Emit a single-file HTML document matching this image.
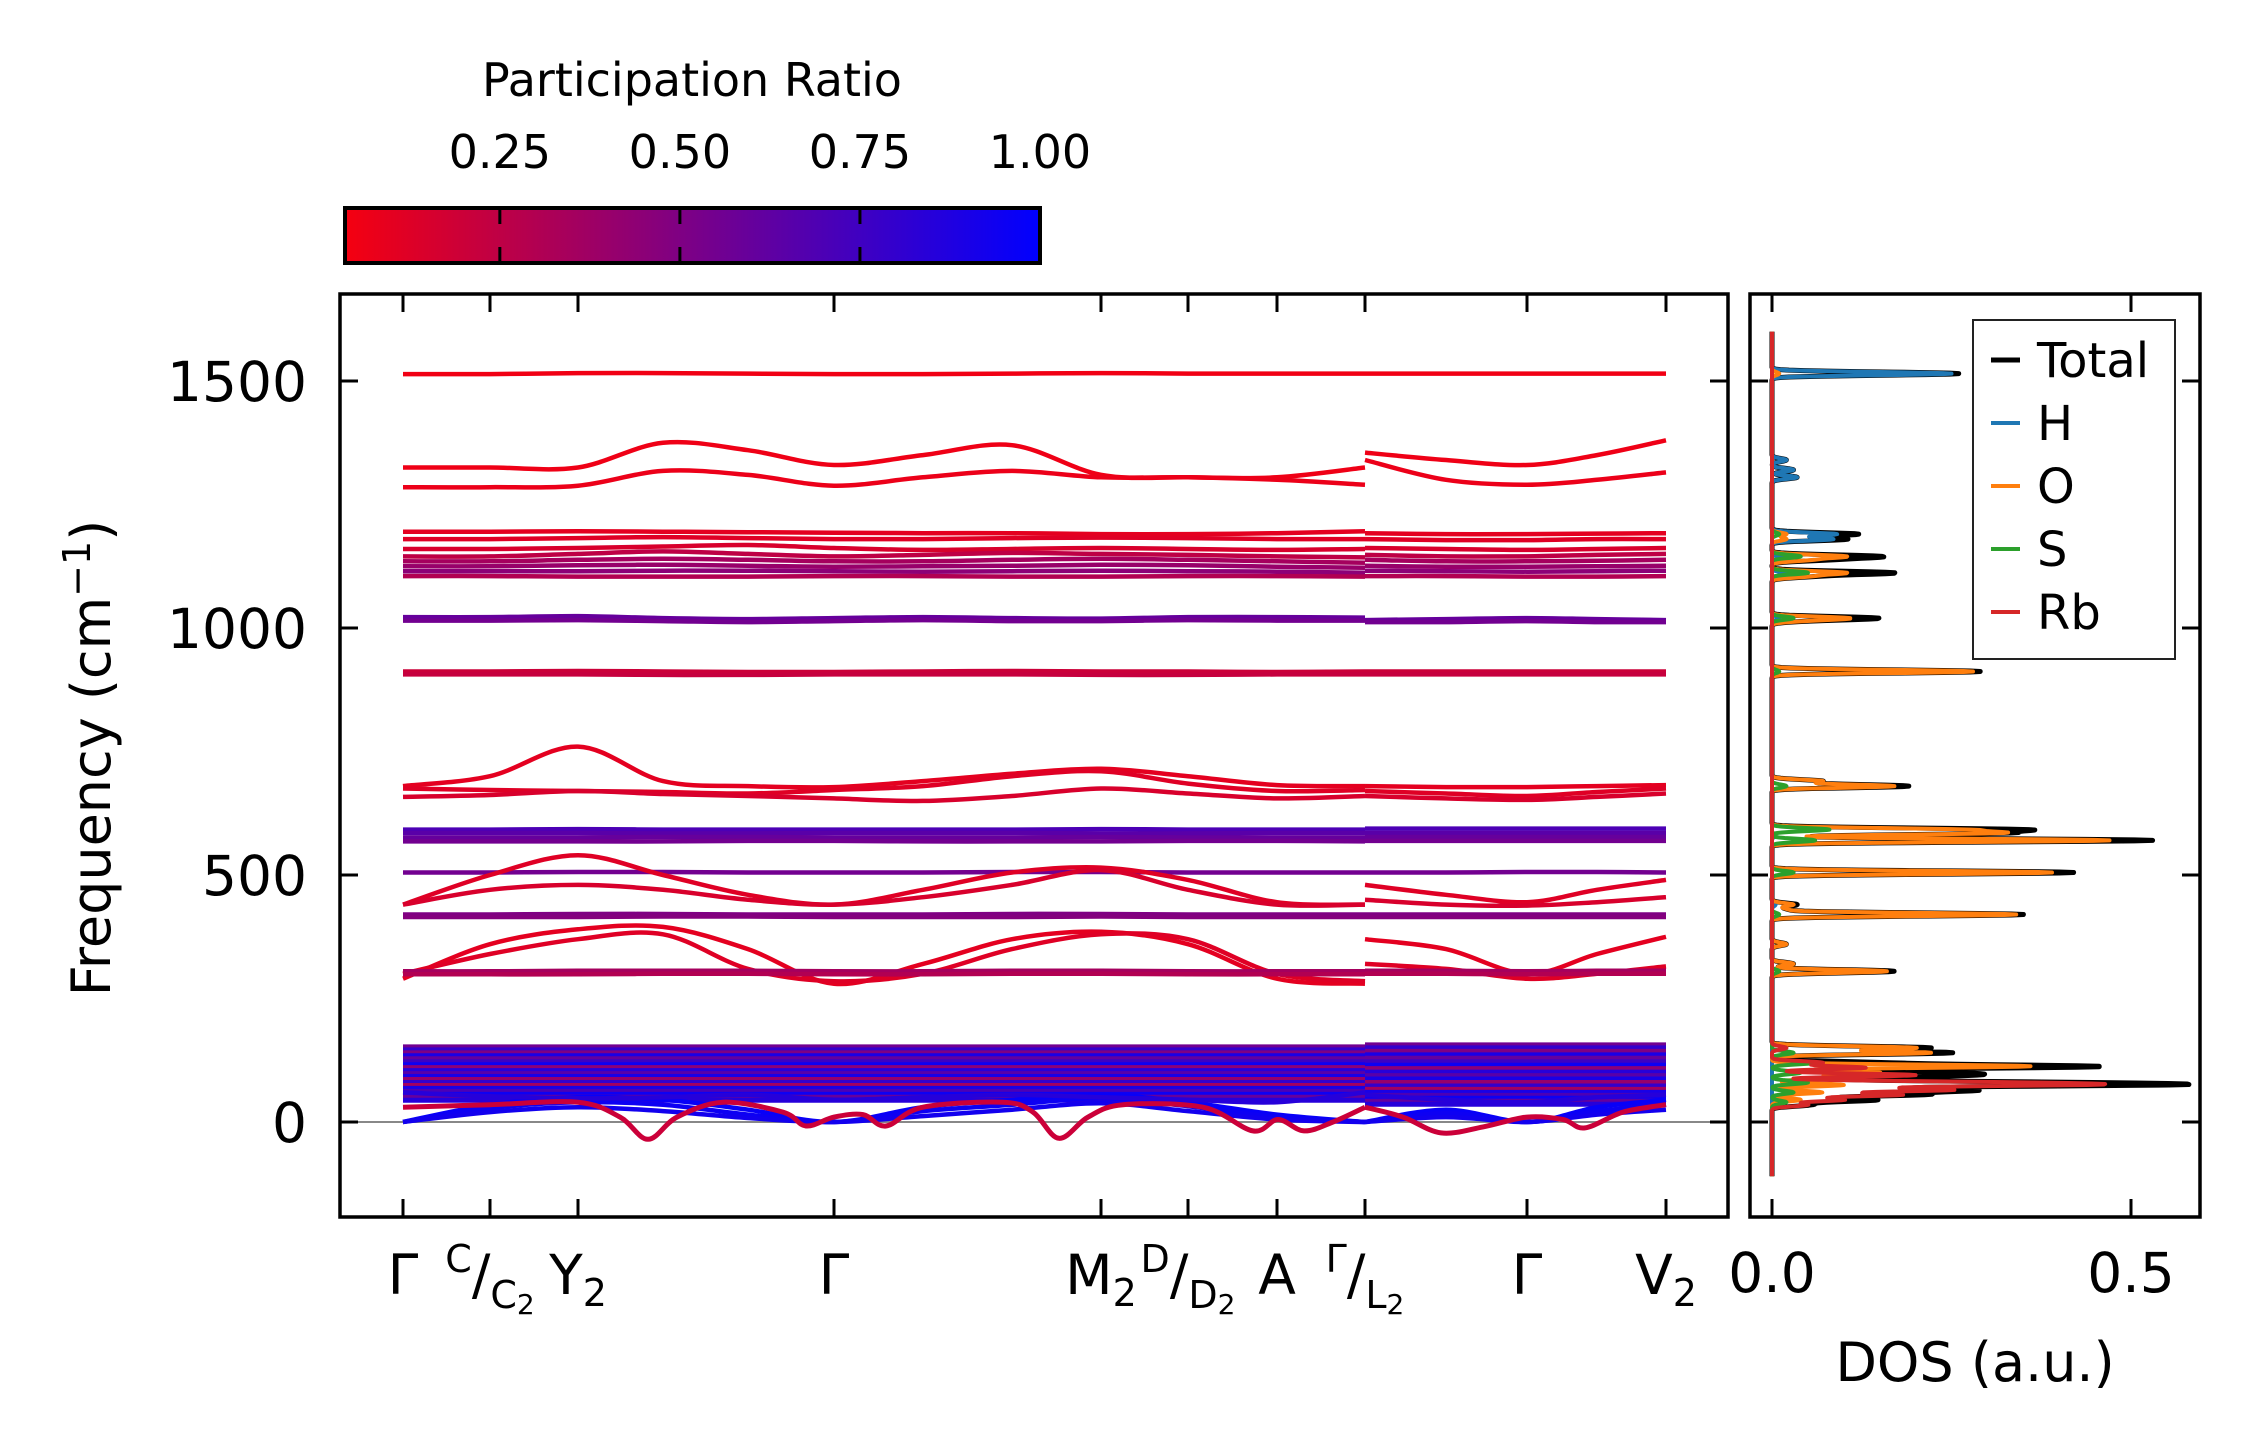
<!DOCTYPE html>
<html><head><meta charset="utf-8"><style>
html,body{margin:0;padding:0;background:#fff}
svg{display:block}
text{font-family:"DejaVu Sans","Liberation Sans",sans-serif;fill:#000}
</style></head><body>
<svg id="fig" xmlns="http://www.w3.org/2000/svg" width="2259" height="1455" viewBox="0 0 2259 1455">
<defs>
<linearGradient id="cbg" x1="0" x2="1" y1="0" y2="0">
<stop offset="0" stop-color="#f50010"/><stop offset="1" stop-color="#0000ff"/>
</linearGradient>
<clipPath id="clipMain"><rect x="340" y="294" width="1388" height="923"/></clipPath>
<clipPath id="clipDos"><rect x="1750" y="294" width="450" height="923"/></clipPath>
</defs>
<g id="colorbar">
<text x="692" y="96" font-size="46" text-anchor="middle">Participation Ratio</text>
<rect x="345" y="208" width="695" height="55" fill="url(#cbg)" stroke="#000" stroke-width="4"/>
</g>
<g id="mainBands" clip-path="url(#clipMain)"></g>
<g id="mainAxes"></g>
<g id="dosLines" clip-path="url(#clipDos)"></g>
<g id="dosAxes"></g>
<g id="legend"></g>
<text x="0" y="0" font-size="54" text-anchor="middle" transform="translate(110,758) rotate(-90)">Frequency (cm<tspan font-size="38" dy="-20">−1</tspan><tspan dy="20">)</tspan></text>
<text x="1975" y="1381" font-size="54" text-anchor="middle">DOS (a.u.)</text>
</svg>
<script>
// ---------- data ----------
const kTickPos = [0,87,175,431,698,785,874,962,1124,1263];
const kTickLabels = ["Γ","C/C₂","Y₂","Γ","M₂","D/D₂","A","Γ/L₂","Γ","V₂"];
const yTicks = [0,500,1000,1500];
const cbTicks = [0.25,0.5,0.75,1.0];
const cbTickLabels = ["0.25","0.50","0.75","1.00"];
const dosTicks = [0,0.5];
const dosTickLabels = ["0.0","0.5"];
const kLeft = [0,87,175,260,345,431,520,609,698,785,874,962];
const kRight = [962,1043,1124,1194,1263];
const bandsL = [
 [1514,1514,1516,1516,1515,1514,1514,1515,1516,1515,1515,1515],
 [1325,1325,1325,1375,1360,1330,1350,1370,1310,1305,1305,1325],
 [1285,1285,1288,1318,1310,1288,1305,1318,1305,1305,1300,1290],
 [1195,1195,1196,1195,1194,1193,1192,1192,1190,1190,1192,1196],
 [1180,1180,1182,1184,1182,1180,1180,1182,1183,1182,1180,1180],
 [1160,1160,1162,1165,1168,1162,1158,1160,1162,1160,1158,1160],
 [1145,1145,1150,1155,1150,1145,1148,1152,1150,1148,1145,1143],
 [1135,1135,1138,1140,1138,1135,1135,1138,1140,1138,1135,1132],
 [1125,1125,1127,1128,1126,1124,1125,1126,1128,1127,1124,1122],
 [1115,1115,1115,1116,1116,1115,1114,1115,1116,1115,1114,1112],
 [1105,1105,1104,1104,1104,1105,1105,1104,1104,1105,1105,1104],
 [1022,1022,1024,1020,1018,1020,1022,1020,1019,1022,1022,1021],
 [1015,1015,1016,1014,1012,1014,1016,1014,1014,1016,1015,1015],
 [912,912,913,912,911,911,912,913,912,912,911,912],
 [906,906,906,905,905,906,906,906,905,905,906,906],
 [680,700,760,690,680,678,690,705,715,700,682,680],
 [675,672,670,668,665,672,680,700,710,685,670,672],
 [658,662,670,664,660,655,650,660,675,665,655,660],
 [592,592,593,592,592,592,592,592,593,592,592,592],
 [585,585,585,584,584,585,585,585,584,584,585,585],
 [576,576,576,577,577,576,576,576,577,576,576,576],
 [568,568,568,568,569,569,568,568,568,569,569,568],
 [505,505,506,506,505,505,505,506,506,505,505,505],
 [440,500,540,500,460,440,470,505,515,490,445,440],
 [440,470,480,470,450,440,455,480,510,470,440,440],
 [420,420,421,421,420,420,420,421,421,420,420,420],
 [415,415,415,416,416,415,415,415,416,415,415,415],
 [290,360,390,395,350,280,320,370,385,360,290,280],
 [300,340,370,380,310,285,300,350,380,370,300,285],
 [305,305,306,306,306,305,305,306,306,305,305,305],
 [299,299,299,300,300,299,299,300,300,299,299,299],
 [0,35,50,45,25,0,30,45,55,40,15,0],
 [0,28,40,35,15,0,22,35,48,32,10,0],
 [0,20,30,22,8,0,12,25,38,22,5,0],
 [60,52,48,50,55,45,50,55,50,45,40,60]
];
const bandsR = [
 [1515,1515,1515,1515,1515],
 [1355,1340,1330,1350,1380],
 [1340,1300,1290,1300,1315],
 [1192,1190,1190,1191,1192],
 [1180,1178,1178,1180,1180],
 [1162,1160,1158,1160,1162],
 [1148,1145,1145,1148,1150],
 [1138,1135,1135,1136,1138],
 [1126,1124,1124,1125,1126],
 [1116,1115,1114,1115,1116],
 [1105,1105,1104,1104,1105],
 [1016,1018,1020,1018,1016],
 [1012,1012,1014,1012,1012],
 [912,912,912,912,912],
 [906,906,906,906,906],
 [680,678,678,680,682],
 [670,665,660,668,675],
 [660,655,652,658,665],
 [594,594,594,594,594],
 [585,585,585,585,585],
 [577,577,577,577,577],
 [569,569,569,569,569],
 [505,505,506,506,505],
 [480,460,445,470,490],
 [450,440,438,445,455],
 [420,420,420,420,420],
 [415,415,415,415,415],
 [370,350,300,340,375],
 [320,310,290,300,315],
 [306,306,305,306,306],
 [300,300,299,300,300],
 [0,25,0,30,45],
 [0,18,0,22,35],
 [0,10,0,15,25],
 [55,45,40,50,55]
];
const bandPR = [0.05,0.06,0.07,0.1,0.12,0.15,0.25,0.35,0.4,0.45,0.3,0.6,0.55,0.2,0.22,0.1,0.12,0.15,0.7,0.65,0.6,0.55,0.55,0.12,0.15,0.5,0.48,0.1,0.12,0.35,0.3,0.97,0.95,0.93,0.85];
const lowFreqL = [152,146,140,134,128,122,116,110,104,98,92,86,80,74,68,62,56,50,44];
const lowFreqR = [156,150,143,136,129,122,115,108,101,94,87,80,73,66,60,54,48,42,36];
const lowPR = [0.55,0.8,0.5,0.9,0.6,0.75,0.95,0.45,0.85,0.65,0.9,0.4,0.8,0.35,0.9,0.7,0.95,0.6,0.85];
const dipKL = [0,87,175,217,245,274,320,380,403,431,460,483,520,600,630,656,685,720,800,850,875,901,930,962];
const dipVL = [30,35,40,10,-35,10,40,20,-8,10,15,-8,30,40,20,-33,10,35,30,-18,5,-18,0,30];
const dipKR = [962,1000,1038,1080,1124,1160,1182,1220,1263];
const dipVR = [30,10,-22,-10,10,5,-12,20,35];
const dipPR = 0.2;
const gridStep = 1;
const hF = [1515,1340,1320,1305,1190,1180,1140,1110,1020,580,440];
const hA = [0.25,0.02,0.03,0.035,0.09,0.085,0.03,0.02,0.01,0.005,0.005];
const oF = [1515,1190,1180,1145,1138,1112,1105,1020,1015,912,690,680,592,585,570,505,440,430,420,360,320,305,150,140,113,100,90,75,60,45];
const oA = [0.01,0.02,0.02,0.1,0.05,0.1,0.05,0.1,0.03,0.28,0.07,0.17,0.25,0.3,0.47,0.39,0.03,0.02,0.34,0.02,0.03,0.16,0.2,0.22,0.36,0.15,0.1,0.1,0.07,0.04];
const sF = [1190,1145,1112,1020,912,680,592,570,505,420,305,140,120,100,80,60,40];
const sA = [0.01,0.04,0.05,0.03,0.01,0.02,0.08,0.06,0.03,0.01,0.01,0.03,0.06,0.04,0.05,0.03,0.02];
const rbF = [150,120,110,95,80,75,65,55,45,35];
const rbA = [0.02,0.07,0.13,0.2,0.26,0.36,0.25,0.18,0.1,0.05];
const legendLabels = ["Total","H","O","S","Rb"];
const legendColors = ["#000000","#1f77b4","#ff7f0e","#2ca02c","#d62728"];

// ---------- scales ----------
const NS="http://www.w3.org/2000/svg";
const X0=403, Y0=1122, YS=0.494;
const kx = k => X0 + k;
const fy = f => Y0 - f*YS;
const dx = d => 1772 + d*718;
const cbx = v => 345 + (v-0.035)/(1.0-0.035)*695;
function prColor(p){
  const t=Math.max(0,Math.min(1,(p-0.035)/0.965));
  const r=Math.round(245*(1-t)), g=0, b=Math.round(16+(255-16)*t);
  return `rgb(${r},${g},${b})`;
}
function el(tag,attrs,parent){const e=document.createElementNS(NS,tag);for(const a in attrs)e.setAttribute(a,attrs[a]);parent.appendChild(e);return e;}
function smooth(pts){
  let d=`M${pts[0][0].toFixed(1)},${pts[0][1].toFixed(1)}`;
  for(let i=0;i<pts.length-1;i++){
    const p0=pts[Math.max(0,i-1)],p1=pts[i],p2=pts[i+1],p3=pts[Math.min(pts.length-1,i+2)];
    const c1=[p1[0]+(p2[0]-p0[0])/6,p1[1]+(p2[1]-p0[1])/6];
    const c2=[p2[0]-(p3[0]-p1[0])/6,p2[1]-(p3[1]-p1[1])/6];
    d+=` C${c1[0].toFixed(1)},${c1[1].toFixed(1)} ${c2[0].toFixed(1)},${c2[1].toFixed(1)} ${p2[0].toFixed(1)},${p2[1].toFixed(1)}`;
  }
  return d;
}
const mb=document.getElementById('mainBands');
const zl=el('line',{x1:340,x2:1728,y1:fy(0),y2:fy(0),stroke:'#888',"stroke-width":2},mb);


lowFreqL.forEach((f,i)=>{
  const c=prColor(lowPR[i]);
  const a=el('line',{x1:kx(0),x2:kx(962),y1:fy(f),y2:fy(f),stroke:c,"stroke-width":5},mb);
  
  
  const b=el('line',{x1:kx(962),x2:kx(1263),y1:fy(lowFreqR[i]),y2:fy(lowFreqR[i]),stroke:c,"stroke-width":5},mb);
  
  
});
bandsL.forEach((vals,i)=>{
  const c=prColor(bandPR[i]);
  const p1=el('path',{d:smooth(kLeft.map((k,j)=>[kx(k),fy(vals[j])])),fill:'none',stroke:c,"stroke-width":4.5},mb);
  
  
  const p2=el('path',{d:smooth(kRight.map((k,j)=>[kx(k),fy(bandsR[i][j])])),fill:'none',stroke:c,"stroke-width":4.5},mb);
  
  
});
const dc=prColor(dipPR);
const dp1=el('path',{d:smooth(dipKL.map((k,j)=>[kx(k),fy(dipVL[j])])),fill:'none',stroke:dc,"stroke-width":5},mb);


const dp2=el('path',{d:smooth(dipKR.map((k,j)=>[kx(k),fy(dipVR[j])])),fill:'none',stroke:dc,"stroke-width":5},mb);



const ma=document.getElementById('mainAxes');
const mf=el('rect',{x:340,y:294,width:1388,height:923,fill:'none',stroke:'#000',"stroke-width":3.5},ma);


yTicks.forEach(v=>{
  const y=fy(v);
  el('line',{x1:340,x2:358,y1:y,y2:y,stroke:'#000',"stroke-width":3},ma);
  el('line',{x1:1710,x2:1728,y1:y,y2:y,stroke:'#000',"stroke-width":3},ma);
  const t=el('text',{x:307,y:y+20,"font-size":55,"text-anchor":"end"},ma);
  t.textContent=String(v);
  
  
});
kTickPos.forEach((k,i)=>{
  const x=kx(k);
  el('line',{x1:x,x2:x,y1:294,y2:312,stroke:'#000',"stroke-width":3},ma);
  el('line',{x1:x,x2:x,y1:1199,y2:1217,stroke:'#000',"stroke-width":3},ma);
  const t=el('text',{x:x,y:1294,"font-size":55,"text-anchor":"middle"},ma);
  const lab=kTickLabels[i];
  if(lab.includes('/')){
    const [a,b]=lab.split('/');
    const s1=el('tspan',{"font-size":38,dy:-22},t);s1.textContent=a;
    const s2=el('tspan',{dy:22},t);s2.textContent='/';
    const s3=el('tspan',{"font-size":38,dy:14},t);s3.textContent=b.replace('₂','');
    const s4=el('tspan',{"font-size":28,dy:6},t);s4.textContent=b.includes('₂')?'2':'';
  } else if(lab.includes('₂')){
    const s1=el('tspan',{},t);s1.textContent=lab.replace('₂','');
    const s2=el('tspan',{"font-size":38,dy:12},t);s2.textContent='2';
  } else t.textContent=lab;
  
  
});
const cb=document.getElementById('colorbar');
cbTicks.forEach((v,i)=>{
  const x=cbx(v);
  if(v<1){
    el('line',{x1:x,x2:x,y1:208,y2:224,stroke:'#000',"stroke-width":3},cb);
    el('line',{x1:x,x2:x,y1:247,y2:263,stroke:'#000',"stroke-width":3},cb);
  }
  const t=el('text',{x:x,y:168,"font-size":46,"text-anchor":"middle"},cb);
  t.textContent=cbTickLabels[i];
  
  
});

const grid=[];for(let f=-110;f<=1600;f+=gridStep)grid.push(f);
function dosCurve(F,A){return grid.map(f=>{let s=0;for(let i=0;i<F.length;i++){const z=(f-F[i])/3.2;s+=A[i]*Math.exp(-0.5*z*z);}return s;});}
const dH=dosCurve(hF,hA),dO=dosCurve(oF,oA),dS=dosCurve(sF,sA),dRb=dosCurve(rbF,rbA);
const dT=grid.map((f,i)=>dH[i]+dO[i]+dS[i]+dRb[i]);
const dl=document.getElementById('dosLines');
const series=[["dos-total",dT,"#000000",5],["dos-h",dH,"#1f77b4",4],["dos-o",dO,"#ff7f0e",4],["dos-s",dS,"#2ca02c",4],["dos-rb",dRb,"#d62728",4]];
series.forEach(([nm,arr,col,w])=>{
  const pts=grid.map((f,i)=>`${dx(arr[i]).toFixed(1)},${fy(f).toFixed(1)}`).join(' ');
  const p=el('polyline',{points:pts,fill:'none',stroke:col,"stroke-width":w,"stroke-linejoin":"round"},dl);
  
  
});
const da=document.getElementById('dosAxes');
const df=el('rect',{x:1750,y:294,width:450,height:923,fill:'none',stroke:'#000',"stroke-width":3.5},da);


yTicks.forEach(v=>{
  const y=fy(v);
  el('line',{x1:1750,x2:1768,y1:y,y2:y,stroke:'#000',"stroke-width":3},da);
  el('line',{x1:2182,x2:2200,y1:y,y2:y,stroke:'#000',"stroke-width":3},da);
});
dosTicks.forEach((v,i)=>{
  const x=dx(v);
  el('line',{x1:x,x2:x,y1:294,y2:312,stroke:'#000',"stroke-width":3},da);
  el('line',{x1:x,x2:x,y1:1199,y2:1217,stroke:'#000',"stroke-width":3},da);
  const t=el('text',{x:x,y:1292,"font-size":55,"text-anchor":"middle"},da);
  t.textContent=dosTickLabels[i];
  
  
});
const lg=document.getElementById('legend');
el('rect',{x:1973,y:320,width:202,height:339,fill:'#fff',stroke:'#222',"stroke-width":2},lg);
legendLabels.forEach((lab,i)=>{
  const y=360+i*63;
  const ln=el('line',{x1:1991,x2:2020,y1:y,y2:y,stroke:legendColors[i],"stroke-width":i==0?5:4},lg);
  
  
  const t=el('text',{x:2037,y:y+17,"font-size":48},lg);
  t.textContent=lab;
  
  
});
</script>
</body></html>
